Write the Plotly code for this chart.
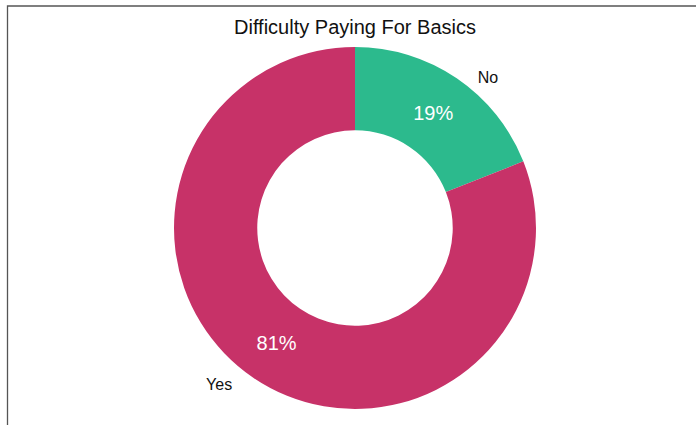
import plotly.graph_objects as go

# Survey responses
labels = ["No", "Yes"]
shares = [19, 81]
colors = ["#2CBA8D", "#C73268"]

W, H = 696, 425
FONT = "Liberation Sans, Arial, sans-serif"
CX, CY = 355, 228  # ring centre in page pixels


def domain_for(radius, cy=CY):
    return dict(x=[(CX - radius) / W, (CX + radius) / W],
                y=[(H - cy - radius) / H, (H - cy + radius) / H])


fig = go.Figure()

# Donut with percentages written inside the ring
fig.add_trace(go.Pie(
    labels=labels,
    values=shares,
    hole=0.54,
    sort=False,
    direction="clockwise",
    rotation=0,
    domain=domain_for(181),
    marker=dict(colors=colors, line=dict(width=0)),
    textinfo="percent",
    textposition="inside",
    insidetextorientation="horizontal",
    insidetextfont=dict(color="white", size=20, family=FONT),
    hoverinfo="label+percent",
    showlegend=False,
))

# Transparent copy, slightly wider, carrying the category names outside the ring
fig.add_trace(go.Pie(
    labels=labels,
    values=shares,
    hole=0.54,
    sort=False,
    direction="clockwise",
    rotation=4.4,
    domain=domain_for(190, CY + 3),
    marker=dict(colors=["rgba(0,0,0,0)"] * len(labels), line=dict(width=0)),
    textinfo="label",
    textposition="outside",
    outsidetextfont=dict(color="#111111", size=16, family=FONT),
    hoverinfo="skip",
    showlegend=False,
))

fig.update_layout(
    width=W,
    height=H,
    margin=dict(l=0, r=0, t=0, b=0),
    paper_bgcolor="white",
    plot_bgcolor="white",
    title=dict(
        text="Difficulty Paying For Basics",
        x=CX / W, xref="paper", xanchor="center",
        y=1 - 27 / H, yref="container", yanchor="middle",
        font=dict(size=20, color="#111111", family=FONT),
    ),
    shapes=[dict(
        type="rect", xref="paper", yref="paper",
        x0=7.5 / W, x1=1.2, y0=-0.3, y1=1 - 6 / H,
        line=dict(color="#555555", width=1.3),
        fillcolor="rgba(0,0,0,0)", layer="above",
    )],
)

fig.write_html("out.html")
